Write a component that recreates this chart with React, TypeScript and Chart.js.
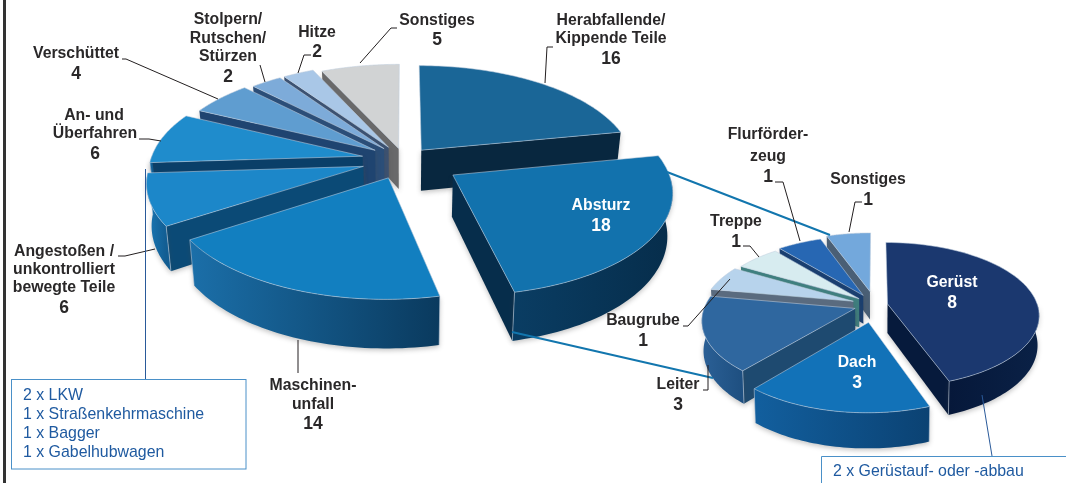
import React, { useEffect, useRef } from "react";
import { Chart, registerables } from "chart.js";

Chart.register(...registerables);

const mainCategories = ["Herabfallende/Kippende Teile", "Absturz", "Maschinenunfall", "Angestoßen/unkontrolliert bewegte Teile", "An- und Überfahren", "Verschüttet", "Stolpern/Rutschen/Stürzen", "Hitze", "Sonstiges"];
const mainValues = [16, 18, 14, 6, 6, 4, 2, 2, 5];
const mainExplode = [13, 27, 19, 20, 20, 17, 15, 15, 12];
const mainTop = ["#1a6697", "#1272ad", "#127fc0", "#1c87c9", "#1f8ccc", "#5f9dd0", "#7dabd9", "#a9c7e7", "#d1d3d4"];
const mainCut = ["#08273f", "#062d4b", "#0a3d63", "#0b4a76", "#0a3f68", "#1f4470", "#2b4e78", "#3c5272", "#69696a"];
const mainRimA = ["#0b3350", "#0a3d63", "#1b6fa9", "#1a78b6", "#1a78b6", "#2c6aa0", "#3c6a9c", "#5a7ea8", "#8a8a8a"];
const mainRimB = ["#08273f", "#062d4b", "#0a3a5e", "#125d92", "#125d92", "#1f4470", "#2b4e78", "#3c5272", "#69696a"];

const detailCategories = ["Gerüst", "Dach", "Leiter", "Baugrube", "Treppe", "Flurförderzeug", "Sonstiges"];
const detailValues = [8, 3, 3, 1, 1, 1, 1];
const detailExplode = [8.5, 24, 14, 15.5, 14, 16, 20];
const detailTop = ["#1b386f", "#1272b8", "#2f679f", "#b7d3ec", "#d7ecf0", "#2767b3", "#73a8dc"];
const detailCut = ["#061a3c", "#0b4273", "#1e4a70", "#5a6b7f", "#3f7f7f", "#1a3f70", "#4a5f75"];
const detailRimA = ["#06183a", "#125f9e", "#2b6096", "#5a6b7f", "#3f7f7f", "#1a3f70", "#4a5f75"];
const detailRimB = ["#0a2146", "#0b4273", "#1e4f80", "#5a6b7f", "#3f7f7f", "#1a3f70", "#4a5f75"];

const views = [
  { cx: 404, cy: 160, rx: 212, ry: 99, k: 0.14, depth: 41, taper: 0.98 },
  { cx: 875, cy: 305, rx: 150, ry: 71, k: 0.15, depth: 29, taper: 0.99 },
];

const FONT = '"Liberation Sans", Arial, sans-serif';
const INK = "#2a2829";
const L = 15.8;
const N = 17.5;

// [text, x, y, size, colour]
const captions: [string, number, number, number, string][] = [
  ["Herabfallende/", 611, 21, L, INK], ["Kippende Teile", 611, 39, L, INK], ["16", 611, 59, N, INK],
  ["Sonstiges", 437, 21, L, INK], ["5", 437, 40, N, INK],
  ["Hitze", 317, 33, L, INK], ["2", 317, 52, N, INK],
  ["Stolpern/", 228, 20, L, INK], ["Rutschen/", 228, 39, L, INK], ["Stürzen", 228, 57, L, INK], ["2", 228, 77, N, INK],
  ["Verschüttet", 76, 54, L, INK], ["4", 76, 74, N, INK],
  ["An- und", 94, 116, L, INK], ["Überfahren", 95, 134, L, INK], ["6", 95, 154, N, INK],
  ["Angestoßen /", 64, 252, L, INK], ["unkontrolliert", 64, 270, L, INK], ["bewegte Teile", 64, 288, L, INK], ["6", 64, 308, N, INK],
  ["Maschinen-", 313, 386, L, INK], ["unfall", 313, 405, L, INK], ["14", 313, 424, N, INK],
  ["Flurförder-", 768, 135, L, INK], ["zeug", 768, 157, L, INK], ["1", 768, 177, N, INK],
  ["Sonstiges", 868, 180, L, INK], ["1", 868, 200, N, INK],
  ["Treppe", 736, 222, L, INK], ["1", 736, 242, N, INK],
  ["Baugrube", 643, 321, L, INK], ["1", 643, 341, N, INK],
  ["Leiter", 678, 385, L, INK], ["3", 678, 405, N, INK],
  ["Gerüst", 952, 283, L, "#ffffff"], ["8", 952, 303, N, "#ffffff"],
  ["Dach", 857, 363, L, "#ffffff"], ["3", 857, 383, N, "#ffffff"],
  ["Absturz", 601, 206, L, "#ffffff"], ["18", 601, 226, N, "#ffffff"],
];

const notes: [string, number, number][] = [
  ["2 x LKW", 23, 396], ["1 x Straßenkehrmaschine", 23, 415], ["1 x Bagger", 23, 434], ["1 x Gabelhubwagen", 23, 453],
  ["2 x Gerüstauf- oder -abbau", 833, 472],
];

const leaders: number[][] = [
  [397, 28, 391, 28, 360, 63], [553, 47, 547, 47, 545, 83], [311, 55, 304, 55, 298, 73], [260, 65, 265, 82],
  [122, 59, 126, 59, 218, 99], [139, 139, 149, 139, 161, 141], [118, 256, 125, 256, 155, 249], [298, 340, 298, 373],
  [775, 182, 783, 182, 800, 241], [862, 202, 855, 202, 849, 232], [743, 246, 750, 246, 759, 257],
  [683, 326, 688, 326, 730, 279], [703, 390, 708, 390, 708, 365],
];

function drawPie(ctx: CanvasRenderingContext2D, meta: any, ds: any, view: any) {
  const P = (u: number, v: number, low = false) => {
    const s = 1 / (1 - view.k * v);
    let x = view.cx + view.rx * u * s;
    let y = view.cy + view.ry * v * s;
    if (low) {
      x = view.cx + (x - view.cx) * view.taper;
      y += view.depth * s;
    }
    return [x, y];
  };
  const order = meta.data
    .map((arc: any, i: number) => ({ arc, i, mid: (arc.startAngle + arc.endAngle) / 2 }))
    .sort((a: any, b: any) => Math.sin(a.mid) - Math.sin(b.mid));

  for (const { arc, i, mid } of order) {
    const e = (arc.options.offset || 0) / 100;
    const ou = Math.cos(mid) * e;
    const ov = Math.sin(mid) * e;
    const a0 = arc.startAngle;
    const a1 = arc.endAngle;
    const rim = (t: number) => [ou + Math.cos(t), ov + Math.sin(t)];
    const poly = (pts: number[][]) => {
      ctx.beginPath();
      pts.forEach((p, n) => (n ? ctx.lineTo(p[0], p[1]) : ctx.moveTo(p[0], p[1])));
      ctx.closePath();
    };
    const wall = (t: number) => {
      const r = rim(t);
      poly([P(ou, ov), P(r[0], r[1]), P(r[0], r[1], true), P(ou, ov, true)]);
      ctx.fillStyle = ds.cut[i];
      ctx.fill();
    };

    ctx.save();
    ctx.shadowColor = "rgba(70,70,70,0.32)";
    ctx.shadowBlur = 5;
    ctx.shadowOffsetY = 2;
    if (Math.cos(a0) < 0) wall(a0);
    if (Math.cos(a1) > 0) wall(a1);

    // outer wall: only the part of the rim that faces the viewer
    const turn = Math.PI * 2;
    for (const shift of [0, turn, -turn]) {
      const from = Math.max(a0, 0 + shift);
      const to = Math.min(a1, Math.PI + shift);
      if (to <= from) continue;
      const up: number[][] = [];
      const down: number[][] = [];
      for (let n = 0; n <= 48; n++) {
        const r = rim(from + ((to - from) * n) / 48);
        up.push(P(r[0], r[1]));
        down.unshift(P(r[0], r[1], true));
      }
      const xs = up.map((p) => p[0]);
      const minX = Math.min(...xs);
      const maxX = Math.max(...xs);
      const g = ctx.createLinearGradient(minX, 0, maxX, 0);
      g.addColorStop(0, ds.rimA[i]);
      g.addColorStop(1, ds.rimB[i]);
      poly(up.concat(down));
      ctx.fillStyle = g;
      ctx.fill();
    }
    ctx.restore();

    // light corner edges
    ctx.strokeStyle = "rgba(190,205,220,0.7)";
    ctx.lineWidth = 0.8;
    for (const t of [a0, a1]) {
      if (Math.sin(t) > 0.05) {
        const r = rim(t);
        const p = P(r[0], r[1]);
        const q = P(r[0], r[1], true);
        ctx.beginPath();
        ctx.moveTo(p[0], p[1]);
        ctx.lineTo(q[0], q[1]);
        ctx.stroke();
      }
    }

    // top face
    const face: number[][] = [P(ou, ov)];
    for (let n = 0; n <= 64; n++) {
      const r = rim(a0 + ((a1 - a0) * n) / 64);
      face.push(P(r[0], r[1]));
    }
    poly(face);
    ctx.fillStyle = ds.top[i];
    ctx.fill();
    ctx.stroke();
  }
}

const pie3d = {
  id: "pie3d",
  beforeDatasetsDraw(chart: any) {
    const ctx: CanvasRenderingContext2D = chart.ctx;
    ctx.save();
    ctx.fillStyle = "#ffffff";
    ctx.fillRect(0, 0, chart.width, chart.height);
    ctx.fillStyle = "#333333";
    ctx.fillRect(3, 0, 3, chart.height);

    chart.data.datasets.forEach((ds: any, d: number) => drawPie(ctx, chart.getDatasetMeta(d), ds, views[d]));

    // zoom connectors
    ctx.strokeStyle = "#1276ae";
    ctx.lineWidth = 2;
    ctx.beginPath();
    ctx.moveTo(667, 172);
    ctx.lineTo(830, 235);
    ctx.moveTo(512, 332);
    ctx.lineTo(713, 378);
    ctx.stroke();

    // leaders
    ctx.strokeStyle = "#231f20";
    ctx.lineWidth = 1;
    for (const l of leaders) {
      ctx.beginPath();
      ctx.moveTo(l[0], l[1]);
      for (let n = 2; n < l.length; n += 2) ctx.lineTo(l[n], l[n + 1]);
      ctx.stroke();
    }

    // note boxes
    ctx.strokeStyle = "#2a5a9a";
    ctx.beginPath();
    ctx.moveTo(145.5, 169);
    ctx.lineTo(145.5, 379);
    ctx.moveTo(982, 395);
    ctx.lineTo(992, 456);
    ctx.stroke();
    ctx.strokeStyle = "#4a90c8";
    ctx.strokeRect(11.5, 379.5, 234.5, 89.5);
    ctx.beginPath();
    ctx.moveTo(821.5, 483);
    ctx.lineTo(821.5, 456.5);
    ctx.lineTo(1066, 456.5);
    ctx.stroke();

    ctx.textBaseline = "middle";
    ctx.textAlign = "left";
    ctx.fillStyle = "#1f5aa0";
    ctx.font = `15.9px ${FONT}`;
    for (const [t, x, y] of notes) ctx.fillText(t, x, y);

    ctx.textAlign = "center";
    for (const [t, x, y, size, colour] of captions) {
      ctx.font = `bold ${size}px ${FONT}`;
      ctx.fillStyle = colour;
      ctx.fillText(t, x, y);
    }
    ctx.restore();
    return false;
  },
};

export default function App() {
  const ref = useRef<HTMLCanvasElement>(null);
  useEffect(() => {
    const chart = new Chart(ref.current as HTMLCanvasElement, {
      type: "pie",
      data: {
        labels: mainCategories,
        datasets: [
          { label: "Unfälle", data: mainValues, offset: mainExplode, top: mainTop, cut: mainCut, rimA: mainRimA, rimB: mainRimB, categories: mainCategories },
          { label: "Absturz", data: detailValues, offset: detailExplode, top: detailTop, cut: detailCut, rimA: detailRimA, rimB: detailRimB, categories: detailCategories },
        ] as any,
      },
      options: {
        responsive: false,
        animation: false,
        plugins: { legend: { display: false }, tooltip: { enabled: false } },
      },
      plugins: [pie3d],
    } as any);
    return () => chart.destroy();
  }, []);
  return <canvas ref={ref} width={1066} height={483} style={{ position: "absolute", left: 0, top: 0, display: "block" }} />;
}
